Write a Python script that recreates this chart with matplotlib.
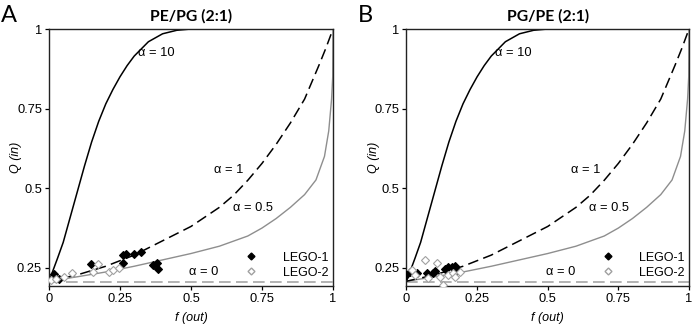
import matplotlib
matplotlib.use("Agg")
import matplotlib.pyplot as plt
from matplotlib.lines import Line2D

# ---- model curves ----
f_a10 = [0.0, 0.03, 0.05, 0.075, 0.1, 0.125, 0.15, 0.175, 0.2, 0.225, 0.25, 0.275, 0.3, 0.35, 0.4, 0.45, 0.5, 1.0]
q_a10 = [0.208, 0.28, 0.33, 0.41, 0.49, 0.57, 0.645, 0.71, 0.765, 0.81, 0.85, 0.885, 0.915, 0.96, 0.985, 0.996, 1.0, 1.0]

f_a1 = [0.0, 0.1, 0.2, 0.3, 0.4, 0.5, 0.6, 0.65, 0.7, 0.75, 0.8, 0.85, 0.9, 0.95, 0.975, 1.0]
q_a1 = [0.208, 0.228, 0.255, 0.29, 0.335, 0.38, 0.44, 0.478, 0.525, 0.578, 0.638, 0.705, 0.78, 0.885, 0.94, 1.0]

f_a05 = [0.0, 0.1, 0.2, 0.3, 0.4, 0.5, 0.6, 0.7, 0.75, 0.8, 0.85, 0.9, 0.94, 0.97, 0.985, 0.995, 0.999, 1.0]
q_a05 = [0.208, 0.222, 0.237, 0.255, 0.275, 0.295, 0.318, 0.35, 0.375, 0.405, 0.44, 0.48, 0.526, 0.6, 0.68, 0.78, 0.85, 1.0]

f_a0 = [0.0, 1.0]
q_a0 = [0.207, 0.207]

# ---- panel A data ----
A_lego1_f = [0.019, 0.036, 0.148, 0.26, 0.271, 0.30, 0.324, 0.26, 0.365, 0.38, 0.385]
A_lego1_q = [0.230, 0.214, 0.261, 0.290, 0.295, 0.293, 0.300, 0.265, 0.260, 0.265, 0.245]
A_lego2_f = [0.007, 0.025, 0.054, 0.08, 0.154, 0.171, 0.212, 0.224, 0.248]
A_lego2_q = [0.212, 0.214, 0.222, 0.233, 0.238, 0.261, 0.238, 0.243, 0.248]

# ---- panel B data ----
B_lego1_f = [0.0, 0.012, 0.036, 0.071, 0.095, 0.10, 0.136, 0.148, 0.16, 0.171, 0.177]
B_lego1_q = [0.227, 0.238, 0.233, 0.235, 0.233, 0.241, 0.245, 0.252, 0.252, 0.256, 0.243]
B_lego2_f = [0.018, 0.03, 0.065, 0.077, 0.107, 0.118, 0.13, 0.148, 0.165, 0.171, 0.189]
B_lego2_q = [0.243, 0.227, 0.274, 0.217, 0.264, 0.222, 0.196, 0.227, 0.233, 0.222, 0.238]

xticks = [0, 0.25, 0.5, 0.75, 1]
xticklabels = ["0", "0.25", "0.5", "0.75", "1"]
yticks = [0.25, 0.5, 0.75, 1]
yticklabels = ["0.25", "0.5", "0.75", "1"]

titles = ["PE/PG (2:1)", "PG/PE (2:1)"]
panel_letters = ["A", "B"]

fig = plt.figure(figsize=(6.93, 3.28), dpi=100)
axA = fig.add_axes([49 / 693, 42 / 328, 284 / 693, 257 / 328])
axB = fig.add_axes([406.5 / 693, 42 / 328, 282.5 / 693, 257 / 328])

arial = ["Liberation Sans", "DejaVu Sans"]
tickfont = {"family": arial, "size": 9.3}
titlefont = ["Lato", "DejaVu Sans"]

for ax, title, letter, d in [
    (axA, titles[0], panel_letters[0], (A_lego1_f, A_lego1_q, A_lego2_f, A_lego2_q)),
    (axB, titles[1], panel_letters[1], (B_lego1_f, B_lego1_q, B_lego2_f, B_lego2_q)),
]:
    ax.plot(f_a0, q_a0, color="#a6a6a6", lw=1.2, dashes=(7, 3.2), zorder=2)
    ax.plot(f_a05, q_a05, color="#8e8e8e", lw=1.0, zorder=2)
    ax.plot(f_a1, q_a1, color="black", lw=1.1, dashes=(7, 3.5), zorder=2)
    ax.plot(f_a10, q_a10, color="black", lw=1.1, zorder=2)
    ax.plot(d[0], d[1], ls="none", marker="D", ms=4.0, mfc="black", mec="black", mew=0.8, zorder=3)
    ax.plot(d[2], d[3], ls="none", marker="D", ms=4.0, mfc="white", mec="#a0a0a0", mew=0.8, zorder=4)

    ax.set_xlim(0, 1)
    ax.set_ylim(0.193, 1.0)
    ax.set_xticks(xticks)
    ax.set_xticklabels(xticklabels, **tickfont)
    ax.set_yticks(yticks)
    ax.set_yticklabels(yticklabels, **tickfont)
    ax.tick_params(direction="out", length=3, width=0.9, pad=2, colors="black")
    for s in ax.spines.values():
        s.set_linewidth(1.0)
        s.set_color("#222222")

    ax.set_xlabel("f (out)", fontstyle="italic", fontfamily=arial, fontsize=9)
    ax.xaxis.set_label_coords(0.5, -0.10)
    ax.set_ylabel("Q (in)", fontstyle="italic", fontfamily=arial, fontsize=9)
    ax.yaxis.set_label_coords(-0.095, 0.5)
    ax.set_title(title, fontweight="bold", fontfamily=titlefont, fontsize=11.3, pad=6)

    ax.text(0.312, 0.924, "α = 10", fontfamily=arial, fontsize=9.3, va="center", ha="left")
    ax.text(0.582, 0.557, "α = 1", fontfamily=arial, fontsize=9.3, va="center", ha="left")
    ax.text(0.647, 0.437, "α = 0.5", fontfamily=arial, fontsize=9.3, va="center", ha="left")
    ax.text(0.494, 0.238, "α = 0", fontfamily=arial, fontsize=9.3, va="center", ha="left")

    h1 = Line2D([], [], ls="none", marker="D", ms=3.5, mfc="black", mec="black")
    h2 = Line2D([], [], ls="none", marker="D", ms=3.5, mfc="white", mec="#a0a0a0")
    ax.legend([h1, h2], ["LEGO-1", "LEGO-2"], loc="lower left", bbox_to_anchor=(0.66, -0.006),
              frameon=False, prop={"family": arial, "size": 9},
              handlelength=1.0, handletextpad=2.0, labelspacing=0.25, borderpad=0.2)

fig.text(1 / 693, 1 - 15 / 328, "A", fontsize=17, fontfamily=titlefont, va="center", ha="left")
fig.text(358 / 693, 1 - 15 / 328, "B", fontsize=17, fontfamily=titlefont, va="center", ha="left")

fig.savefig("out.png", dpi=100)
